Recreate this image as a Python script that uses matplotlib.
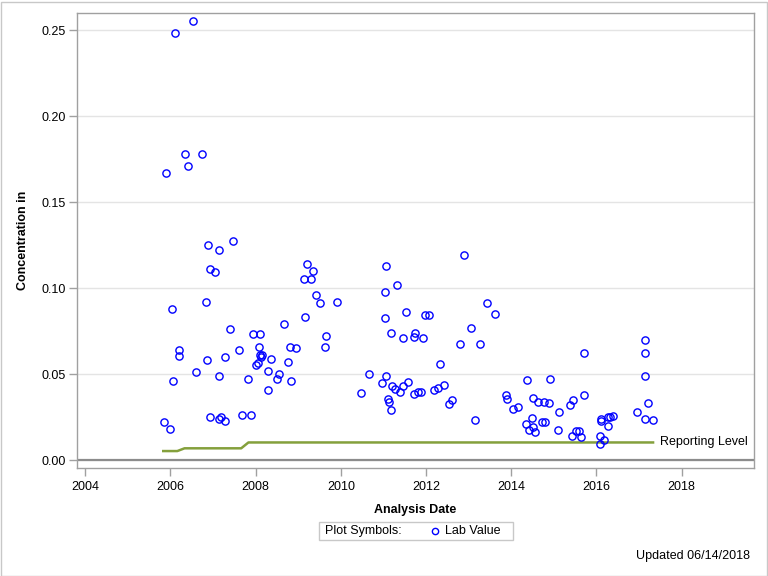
import matplotlib
matplotlib.use("Agg")
import matplotlib.pyplot as plt
from matplotlib.patches import Rectangle
from matplotlib.lines import Line2D

# lab values: analysis date (decimal year) and concentration
dates = [
    2006.10, 2006.54, 2006.35, 2006.73, 2006.40, 2005.89,
    2006.87, 2007.15, 2007.46, 2006.93, 2007.04, 2006.83, 2006.03, 2007.40,
    2006.19, 2006.19, 2007.62, 2006.85, 2007.27, 2006.61, 2007.13, 2006.05,
    2007.83, 2006.92, 2007.13, 2007.18, 2007.29, 2007.67, 2007.88, 2005.84,
    2006.00, 2007.94, 2008.09, 2008.07, 2008.66, 2008.81, 2008.94, 2008.09,
    2008.15, 2008.12, 2008.37, 2008.75, 2008.01, 2008.06, 2008.28, 2008.54,
    2008.49, 2008.84, 2008.28,
    2009.20, 2009.34, 2009.13, 2009.29, 2009.41, 2009.52, 2009.92, 2009.16,
    2009.66, 2009.62,
    2011.05, 2011.31, 2011.03, 2011.52, 2011.97, 2012.08, 2011.03, 2011.17,
    2011.47, 2011.75, 2011.71, 2011.92, 2012.32, 2010.65, 2011.05, 2010.96,
    2010.48, 2011.21, 2011.28, 2011.57, 2011.47, 2011.38, 2011.71, 2011.82,
    2011.87, 2011.10, 2011.14, 2011.17, 2012.18, 2012.27,
    2012.88, 2013.42, 2013.63, 2013.05, 2012.79, 2013.26, 2012.41, 2012.53,
    2012.62, 2013.14, 2014.38, 2014.92, 2013.87, 2013.89, 2014.03, 2014.17,
    2014.52, 2014.64, 2014.76, 2014.88, 2015.13, 2015.37, 2015.46, 2014.48,
    2014.34, 2014.41, 2014.50, 2014.55, 2014.73, 2014.80, 2015.09, 2015.42,
    2015.51, 2015.58, 2015.63,
    2015.72, 2015.72, 2016.08, 2016.17, 2016.08, 2016.10, 2016.10, 2016.28,
    2016.33, 2016.38, 2016.28, 2016.96, 2017.15, 2017.13, 2017.15, 2017.20,
    2017.15, 2017.34,
]
values = [
    0.248, 0.255, 0.1777, 0.1777, 0.1707, 0.1667,
    0.1248, 0.1219, 0.1271, 0.1109, 0.1091, 0.0917, 0.0876, 0.0760,
    0.0638, 0.0607, 0.0638, 0.0580, 0.0597, 0.0510, 0.0487, 0.0457,
    0.0469, 0.0248, 0.0238, 0.0248, 0.0227, 0.0260, 0.0260, 0.0219,
    0.0178, 0.0730, 0.0730, 0.0655, 0.0789, 0.0655, 0.0649, 0.0609,
    0.0609, 0.0597, 0.0585, 0.0568, 0.0554, 0.0566, 0.0516, 0.0498,
    0.0469, 0.0457, 0.0405,
    0.1138, 0.1097, 0.1050, 0.1054, 0.0957, 0.0911, 0.0917, 0.0830,
    0.0719, 0.0655,
    0.1126, 0.1016, 0.0975, 0.0859, 0.0841, 0.0841, 0.0824, 0.0737,
    0.0707, 0.0737, 0.0713, 0.0707, 0.0556, 0.0498, 0.0486, 0.0446,
    0.0388, 0.0428, 0.0411, 0.0452, 0.0428, 0.0394, 0.0382, 0.0394,
    0.0394, 0.0353, 0.0335, 0.0289, 0.0405, 0.0417,
    0.1190, 0.0911, 0.0847, 0.0766, 0.0673, 0.0673, 0.0434, 0.0324,
    0.0347, 0.0231, 0.0463, 0.0469, 0.0376, 0.0353, 0.0295, 0.0306,
    0.0359, 0.0335, 0.0335, 0.0330, 0.0277, 0.0318, 0.0347, 0.0242,
    0.0208, 0.0173, 0.0194, 0.0161, 0.0219, 0.0219, 0.0173, 0.0138,
    0.0167, 0.0167, 0.0132,
    0.0620, 0.0376, 0.0138, 0.0115, 0.0091, 0.0237, 0.0225, 0.0248,
    0.0248, 0.0254, 0.0196, 0.0277, 0.0696, 0.0620, 0.0486, 0.0330,
    0.0237, 0.0231,
]

# reporting level (step line)
rl_dates = [2005.83, 2006.16, 2006.33, 2007.66, 2007.83, 2017.33]
rl_values = [0.0052, 0.0052, 0.0068, 0.0068, 0.0102, 0.0102]

year_ticks = [2004, 2006, 2008, 2010, 2012, 2014, 2016, 2018]
conc_ticks = [0.00, 0.05, 0.10, 0.15, 0.20, 0.25]

plt.rcParams['font.family'] = ['Liberation Sans', 'DejaVu Sans']
plt.rcParams['font.size'] = 9

fig = plt.figure(figsize=(7.68, 5.76), dpi=100)
ax = fig.add_axes([77 / 768, 1 - 468 / 576, (754 - 77) / 768, (468 - 13) / 576])

spine_col = '#a0a0a0'
for s in ax.spines.values():
    s.set_color(spine_col)
    s.set_linewidth(1.0)

ax.set_xlim(2003.805, 2019.70)
ax.set_ylim(-0.00465, 0.2599)
ax.set_xticks(year_ticks)
ax.set_xticklabels([str(y) for y in year_ticks])
ax.set_yticks(conc_ticks)
ax.set_yticklabels(['%.2f' % v for v in conc_ticks])
ax.tick_params(colors=spine_col, labelcolor='black', length=6, width=1,
               labelsize=9)
ax.tick_params(axis='y', pad=2)

ax.grid(axis='y', color='#e4e4e4', linewidth=1.0)
ax.set_axisbelow(True)
ax.axhline(0, color='#8c8c8c', linewidth=1.6, zorder=2)

ax.plot(rl_dates, rl_values, color='#84a03c', linewidth=1.8, zorder=3)
ax.text(rl_dates[-1] + 0.17, rl_values[-1], 'Reporting Level',
        va='center', ha='left', fontsize=9)

ax.plot(dates, values, linestyle='none', marker='o', markersize=5.2,
        markerfacecolor='none', markeredgecolor='#0000ff',
        markeredgewidth=1.0, zorder=4)

ax.set_xlabel('Analysis Date', fontweight='bold', fontsize=9, labelpad=8)
ax.set_ylabel('Concentration in', fontweight='bold', fontsize=9, labelpad=9)

# legend box, drawn like the SAS one
fig.patches.append(Rectangle((319 / 768, 1 - 540 / 576), 194 / 768, 18 / 576,
                             transform=fig.transFigure, facecolor='white',
                             edgecolor='#c8c8c8', linewidth=1.0))
fig.text(325 / 768, 1 - 531 / 576, 'Plot Symbols:', va='center', fontsize=9)
fig.lines.append(Line2D([435 / 768], [1 - 531 / 576], transform=fig.transFigure,
                        marker='o', markersize=4.5, markerfacecolor='none',
                        markeredgecolor='#0000ff', markeredgewidth=1.0))
fig.text(445 / 768, 1 - 531 / 576, 'Lab Value', va='center', fontsize=9)

fig.text(750 / 768, 1 - 556 / 576, 'Updated 06/14/2018', ha='right',
         va='center', fontsize=9)

# outer frame around the whole graph
fig.patches.append(Rectangle((0.5 / 768, 0.5 / 576), 766 / 768, 574 / 576,
                             transform=fig.transFigure, facecolor='none',
                             edgecolor='#c8c8c8', linewidth=1.0))

fig.savefig('out.png', dpi=100)
